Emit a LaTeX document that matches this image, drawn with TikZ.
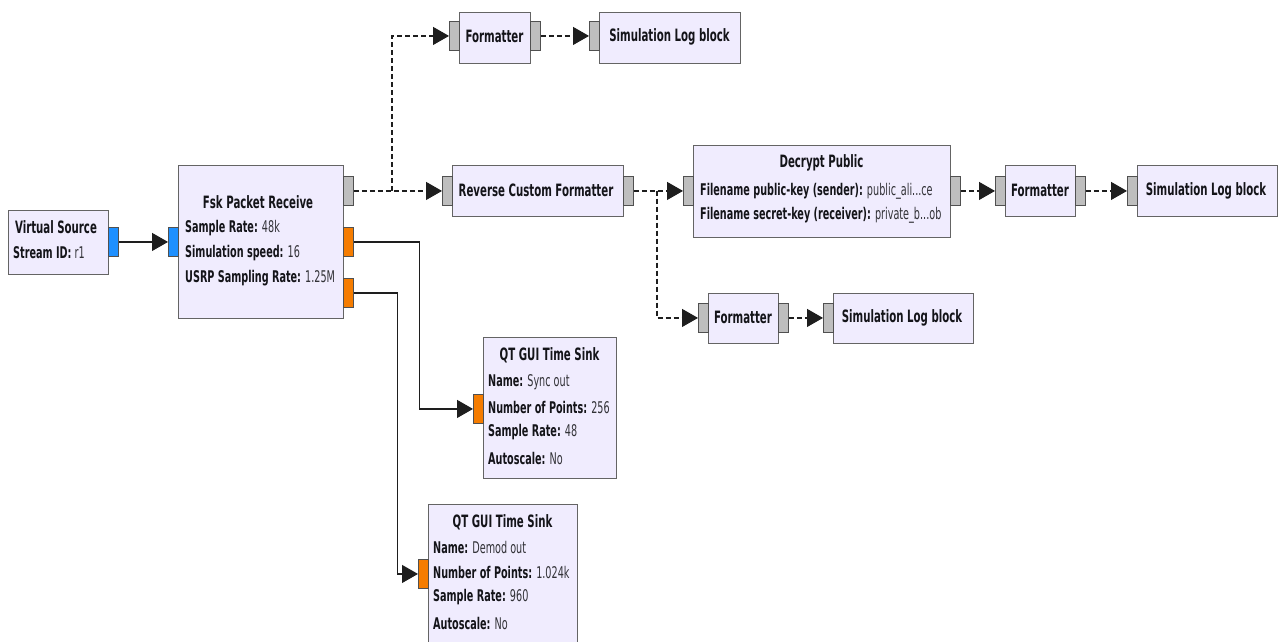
\documentclass[tikz,border=0pt]{standalone}
\usepackage{fontspec}
\setmainfont{DejaVu Sans}[FakeStretch=0.6]
\usetikzlibrary{arrows.meta}
\definecolor{blkfill}{RGB}{240,236,254}
\definecolor{blkdraw}{RGB}{100,100,100}
\definecolor{portgray}{RGB}{190,190,190}
\definecolor{portblue}{RGB}{30,144,255}
\definecolor{portorange}{RGB}{245,124,0}
\definecolor{portdraw}{RGB}{80,80,80}
\definecolor{linecol}{RGB}{30,30,30}
\definecolor{txt}{RGB}{20,20,25}
\definecolor{valcol}{RGB}{50,50,55}
\newcommand\fsz{\fontsize{16.1}{18}\selectfont}
\newcommand\tsz{\fontsize{17}{19}\selectfont}
\newcommand\pv[2]{\textbf{#1} {\color{valcol}#2}}
\tikzset{
  blk/.style={draw=blkdraw, fill=blkfill, line width=1.2pt, inner sep=0pt, anchor=north west},
  port/.style={draw=portdraw, line width=0.9pt, inner sep=0pt, anchor=north west, minimum width=10pt, minimum height=29pt},
  gport/.style={port, fill=portgray},
  bport/.style={port, fill=portblue},
  oport/.style={port, fill=portorange},
  conn/.style={draw=linecol, line width=1.1pt, -{Triangle[length=16pt,width=18pt]}},
  dconn/.style={conn, dash pattern=on 5pt off 3pt},
  ttl/.style={font=\tsz\bfseries, text=txt, inner sep=0pt},
  prm/.style={font=\fsz, text=txt, inner sep=0pt, anchor=west}
}
\begin{document}
\begin{tikzpicture}[x=1pt,y=-1pt]
\useasboundingbox[fill=white] (0,0) rectangle (1278,641);
% Virtual Source
\node[blk, minimum width=100pt, minimum height=64pt] (vs) at (8,210) {};
\node[bport] (vsout) at (108,227) {};
\node[ttl] (vst) at (56,227) {Virtual Source};
\node[prm] (vsp1) at (13,253) {\pv{Stream ID:}{r1}};
% Fsk Packet Receive
\node[blk, minimum width=165pt, minimum height=153pt] (fsk) at (178,165) {};
\node[bport] (fskin) at (168,227) {};
\node[gport] (fsko1) at (343,176) {};
\node[oport] (fsko2) at (343,227) {};
\node[oport] (fsko3) at (343,278) {};
\node[ttl] (fskt) at (258,202) {Fsk Packet Receive};
\node[prm] (fskp1) at (185,228) {\pv{Sample Rate:}{48k}};
\node[prm] (fskp2) at (185,253) {\pv{Simulation speed:}{16}};
\node[prm] (fskp3) at (185,278) {\pv{USRP Sampling Rate:}{1.25M}};
% Formatter 1 + Log 1
\node[blk, minimum width=71pt, minimum height=51pt] (fmt1) at (459,12) {};
\node[gport] (fmt1in) at (449,21) {};
\node[gport] (fmt1out) at (530,21) {};
\node[ttl] (fmt1t) at (494.5,36.5) {Formatter};
\node[blk, minimum width=141pt, minimum height=51pt] (log1) at (599,12) {};
\node[gport] (log1in) at (589,21) {};
\node[ttl] (log1t) at (669.5,36.5) {Simulation Log block};
% Reverse Custom Formatter
\node[blk, minimum width=171pt, minimum height=51pt] (rcf) at (452,165) {};
\node[gport] (rcfin) at (442,176) {};
\node[gport] (rcfout) at (623,176) {};
\node[ttl] (rcft) at (536,190.5) {Reverse Custom Formatter};
% Decrypt Public
\node[blk, minimum width=257pt, minimum height=92pt] (dec) at (693,145) {};
\node[gport] (decin) at (683,176) {};
\node[gport] (decout) at (950,176) {};
\node[ttl] (dect) at (821.5,163) {Decrypt Public};
\node[prm] (decp1) at (700,191) {\pv{Filename public-key (sender):}{public\_ali...ce}};
\node[prm] (decp2) at (700,215) {\pv{Filename secret-key (receiver):}{private\_b...ob}};
% Formatter 2 + Log 2
\node[blk, minimum width=70pt, minimum height=51pt] (fmt2) at (1005,165) {};
\node[gport] (fmt2in) at (995,176) {};
\node[gport] (fmt2out) at (1075,176) {};
\node[ttl] (fmt2t) at (1040,190.5) {Formatter};
\node[blk, minimum width=140pt, minimum height=51pt] (log2) at (1137,165) {};
\node[gport] (log2in) at (1127,176) {};
\node[ttl] (log2t) at (1206,190.5) {Simulation Log block};
% Formatter 3 + Log 3
\node[blk, minimum width=70pt, minimum height=50pt] (fmt3) at (708,293) {};
\node[gport] (fmt3in) at (698,303) {};
\node[gport] (fmt3out) at (778,303) {};
\node[ttl] (fmt3t) at (743,317.5) {Formatter};
\node[blk, minimum width=140pt, minimum height=50pt] (log3) at (833,293) {};
\node[gport] (log3in) at (823,303) {};
\node[ttl] (log3t) at (902,317.5) {Simulation Log block};
% QT GUI Time Sink 1
\node[blk, minimum width=133pt, minimum height=141pt] (qt1) at (483,337) {};
\node[oport] (qt1in) at (473,394) {};
\node[ttl] (qt1t) at (549.5,355) {QT GUI Time Sink};
\node[prm] (qt1p1) at (488,382) {\pv{Name:}{Sync out}};
\node[prm] (qt1p2) at (488,407) {\pv{Number of Points:}{256}};
\node[prm] (qt1p3) at (488,432) {\pv{Sample Rate:}{48}};
\node[prm] (qt1p4) at (488,458) {\pv{Autoscale:}{No}};
% QT GUI Time Sink 2
\node[blk, minimum width=149pt, minimum height=150pt] (qt2) at (428,504) {};
\node[oport] (qt2in) at (418,559) {};
\node[ttl] (qt2t) at (502.5,522) {QT GUI Time Sink};
\node[prm] (qt2p1) at (433,547) {\pv{Name:}{Demod out}};
\node[prm] (qt2p2) at (433,572) {\pv{Number of Points:}{1.024k}};
\node[prm] (qt2p3) at (433,597) {\pv{Sample Rate:}{960}};
\node[prm] (qt2p4) at (433,623) {\pv{Autoscale:}{No}};
% junctions
\coordinate (j1) at (392,190.5);
\coordinate (j2) at (657,190.5);
% connectors
\draw[conn] (vsout.east) -- (fskin.west);
\draw[dconn] (fsko1.east) -- (rcfin.west);
\draw[dconn] (j1) |- (fmt1in.west);
\draw[dconn] (fmt1out.east) -- (log1in.west);
\draw[dconn] (rcfout.east) -- (decin.west);
\draw[dconn] (j2) |- (fmt3in.west);
\draw[dconn] (decout.east) -- (fmt2in.west);
\draw[dconn] (fmt2out.east) -- (log2in.west);
\draw[dconn] (fmt3out.east) -- (log3in.west);
\draw[conn] (fsko2.east) -- ++(66,0) |- (qt1in.west);
\draw[conn] (fsko3.east) -- ++(44,0) |- (qt2in.west);
\end{tikzpicture}
\end{document}
